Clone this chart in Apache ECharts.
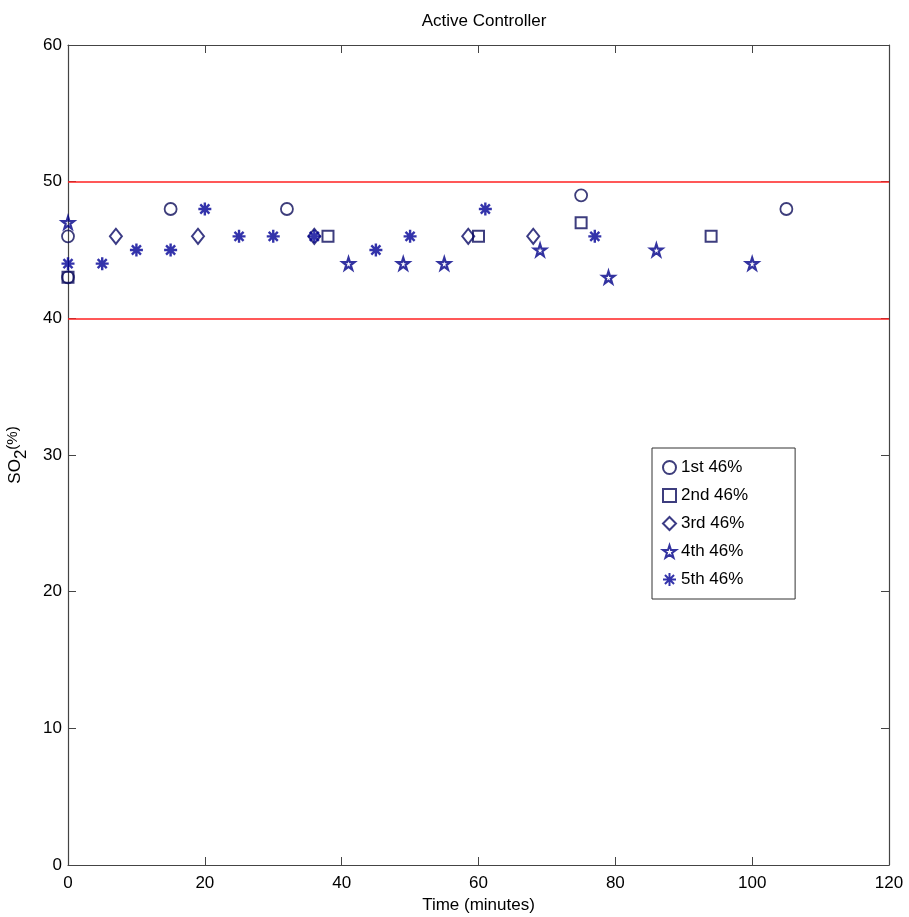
<!DOCTYPE html>
<html>
<head>
<meta charset="utf-8">
<script src="https://cdn.jsdelivr.net/npm/echarts@6/dist/echarts.min.js"></script>
<style>html,body{margin:0;padding:0;background:#fff;}#c{width:909px;height:917px;}</style>
</head>
<body>
<div id="c"></div>
<script>
// Data
var xTicks = [0, 20, 40, 60, 80, 100, 120];
var yTicks = [0, 10, 20, 30, 40, 50, 60];
var limitLines = [50, 40];
var seriesNames = ['1st 46%', '2nd 46%', '3rd 46%', '4th 46%', '5th 46%'];
var s1x = [0, 0, 15, 32, 75, 105];
var s1y = [46, 43, 48, 48, 49, 48];
var s2x = [0, 38, 60, 75, 94];
var s2y = [43, 46, 46, 47, 46];
var s3x = [7, 19, 36, 58.5, 68];
var s3y = [46, 46, 46, 46, 46];
var s4x = [0, 41, 49, 55, 69, 79, 86, 100];
var s4y = [47, 44, 44, 44, 45, 43, 45, 44];
var s5x = [0, 5, 10, 15, 20, 25, 30, 36, 45, 50, 61, 77];
var s5y = [44, 44, 45, 45, 48, 46, 46, 46, 45, 46, 48, 46];

function pairs(xs, ys) { return xs.map(function (x, i) { return [x, ys[i]]; }); }

var FONT = 'Liberation Sans, Arial, sans-serif';
var colors = ['#0c0c5a', '#0c0c5e', '#0a0a66', '#000088', '#000096'];
var STAR = 'path://M50,2 L61,36 L97,36 L68,57 L79,92 L50,71 L21,92 L32,57 L3,36 L39,36 Z';
var AST = 'path://M50,0 L50,100 M0,50 L100,50 M15,15 L85,85 M85,15 L15,85';

var symbols = ['circle', 'rect', 'diamond', STAR, AST];
var sizes = [12, 11, [12, 15], 12, 13];
var data = [pairs(s1x, s1y), pairs(s2x, s2y), pairs(s3x, s3y), pairs(s4x, s4y), pairs(s5x, s5y)];
var widths = [1.8, 2, 2, 2.2, 2.4];

var series = seriesNames.map(function (n, i) {
  return {
    name: n, type: 'scatter', data: data[i], symbol: symbols[i], symbolSize: sizes[i],
    itemStyle: { color: 'rgba(0,0,0,0)', borderColor: colors[i], borderWidth: widths[i] },
    emphasis: { disabled: true }, z: 5
  };
});
series.push({
  type: 'scatter', data: [], silent: true,
  markLine: {
    silent: true, symbol: ['none', 'none'], label: { show: false },
    lineStyle: { color: '#ff2020', width: 1.5, type: 'solid' },
    data: limitLines.map(function (v) { return { yAxis: v }; })
  }
});

var axisLine = { show: true, onZero: false, lineStyle: { color: '#444', width: 1.2 } };
var tick = { show: true, inside: true, length: 8, lineStyle: { color: '#444' } };
var lbl = { color: '#000', fontSize: 17, fontFamily: FONT };

var chart = echarts.init(document.getElementById('c'), null, { renderer: 'canvas' });
chart.setOption({
  animation: false,
  backgroundColor: '#fff',
  title: {
    text: 'Active Controller', left: 479, top: 8, textAlign: 'center',
    textStyle: { fontSize: 17, fontWeight: 'normal', color: '#000', fontFamily: FONT }
  },
  grid: { left: 68, top: 45, right: 20, bottom: 52, containLabel: false, outerBoundsMode: 'none' },
  legend: {
    orient: 'vertical', left: 652, top: 448,
    data: seriesNames,
    padding: [11, 47, 11, 10], itemWidth: 13, itemHeight: 13, itemGap: 11, itemTextGap: 8,
    borderColor: '#333', borderWidth: 1, backgroundColor: '#fff',
    textStyle: { fontSize: 17, color: '#000', fontFamily: FONT }
  },
  xAxis: [{
    type: 'value', min: xTicks[0], max: xTicks[xTicks.length - 1], interval: 20,
    name: 'Time (minutes)', nameLocation: 'middle', nameGap: 31,
    nameTextStyle: { fontSize: 17, color: '#000', fontFamily: FONT },
    axisLine: axisLine, axisTick: tick, splitLine: { show: false },
    axisLabel: Object.assign({ margin: 10 }, lbl)
  }, {
    type: 'value', position: 'top', min: xTicks[0], max: xTicks[xTicks.length - 1], interval: 20,
    axisLine: axisLine, axisTick: tick, splitLine: { show: false }, axisLabel: { show: false }
  }],
  yAxis: [{
    type: 'value', min: yTicks[0], max: yTicks[yTicks.length - 1], interval: 10,
    name: 'SO{sub|2}{p|(%)}', nameLocation: 'middle', nameGap: 38, nameRotate: 90,
    nameTextStyle: {
      fontSize: 17, color: '#000', fontFamily: FONT,
      rich: {
        sub: { fontSize: 17, color: '#000', fontFamily: FONT, padding: [12, 0, 0, 0] },
        p: { fontSize: 15, color: '#000', fontFamily: FONT, padding: [0, 0, 6, 0] }
      }
    },
    axisLine: axisLine, axisTick: tick, splitLine: { show: false },
    axisLabel: Object.assign({ margin: 6 }, lbl)
  }, {
    type: 'value', position: 'right', min: yTicks[0], max: yTicks[yTicks.length - 1], interval: 10,
    axisLine: axisLine, axisTick: tick, splitLine: { show: false }, axisLabel: { show: false }
  }],
  series: series
});
</script>
</body>
</html>
